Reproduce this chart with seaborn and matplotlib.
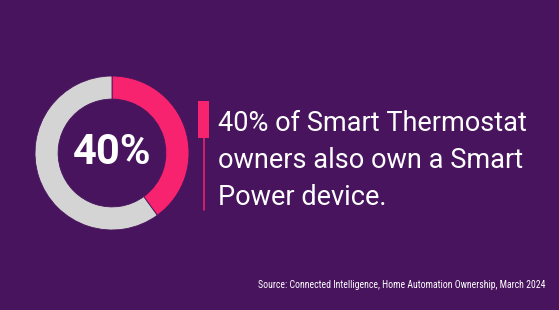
import matplotlib
matplotlib.use("Agg")
import matplotlib.pyplot as plt
import seaborn as sns

labels = ["Own Smart Power device", "Do not"]
values = [40, 60]
headline = "40%"
statement = ["40% of Smart Thermostat", "owners also own a Smart", "Power device."]
source = "Source: Connected Intelligence, Home Automation Ownership, March 2024"

BG = "#48145E"
PINK = "#F7236E"
GRAY = "#D4D4D4"

sns.set_theme(style="white")
plt.rcParams['font.family'] = ['Roboto', 'DejaVu Sans']

fig = plt.figure(figsize=(5.59, 3.10), dpi=100)
fig.patch.set_facecolor(BG)

cx, cy, r = 112, 153, 77
W, H = 559, 310
ax = fig.add_axes([(cx - r) / W, (H - cy - r) / H, 2 * r / W, 2 * r / H])
ax.set_facecolor(BG)
colors = sns.color_palette([PINK, GRAY])
ax.pie(values, colors=colors, startangle=90, counterclock=False, radius=1.0,
       wedgeprops=dict(width=0.30, edgecolor=BG, linewidth=0.6))
ax.set_xlim(-1, 1)
ax.set_ylim(-1, 1)
ax.set_aspect("equal")
ax.axis("off")
ax.text(0, 0, headline, ha="center", va="center", color="white",
        fontsize=30, fontweight="bold")

# accent bar and line
fig.add_artist(plt.Rectangle((198 / W, 1 - 138 / H), 11 / W, 37 / H,
                             transform=fig.transFigure, color=PINK, lw=0))
fig.add_artist(plt.Line2D([203.5 / W, 203.5 / W], [1 - 210 / H, 1 - 138 / H],
                          transform=fig.transFigure, color=PINK, lw=1.1))

baselines = [131, 168, 205]
for line, yb in zip(statement, baselines):
    fig.text(218 / W, 1 - yb / H, line, ha="left", va="baseline", color="white",
             fontsize=19.5, fontweight="normal")

fig.text(545 / W, 1 - 288 / H, source, ha="right", va="baseline", color="white",
         fontsize=7.0, family=['Roboto Condensed', 'Roboto', 'DejaVu Sans'])

fig.savefig("out.png", dpi=100, facecolor=BG)
